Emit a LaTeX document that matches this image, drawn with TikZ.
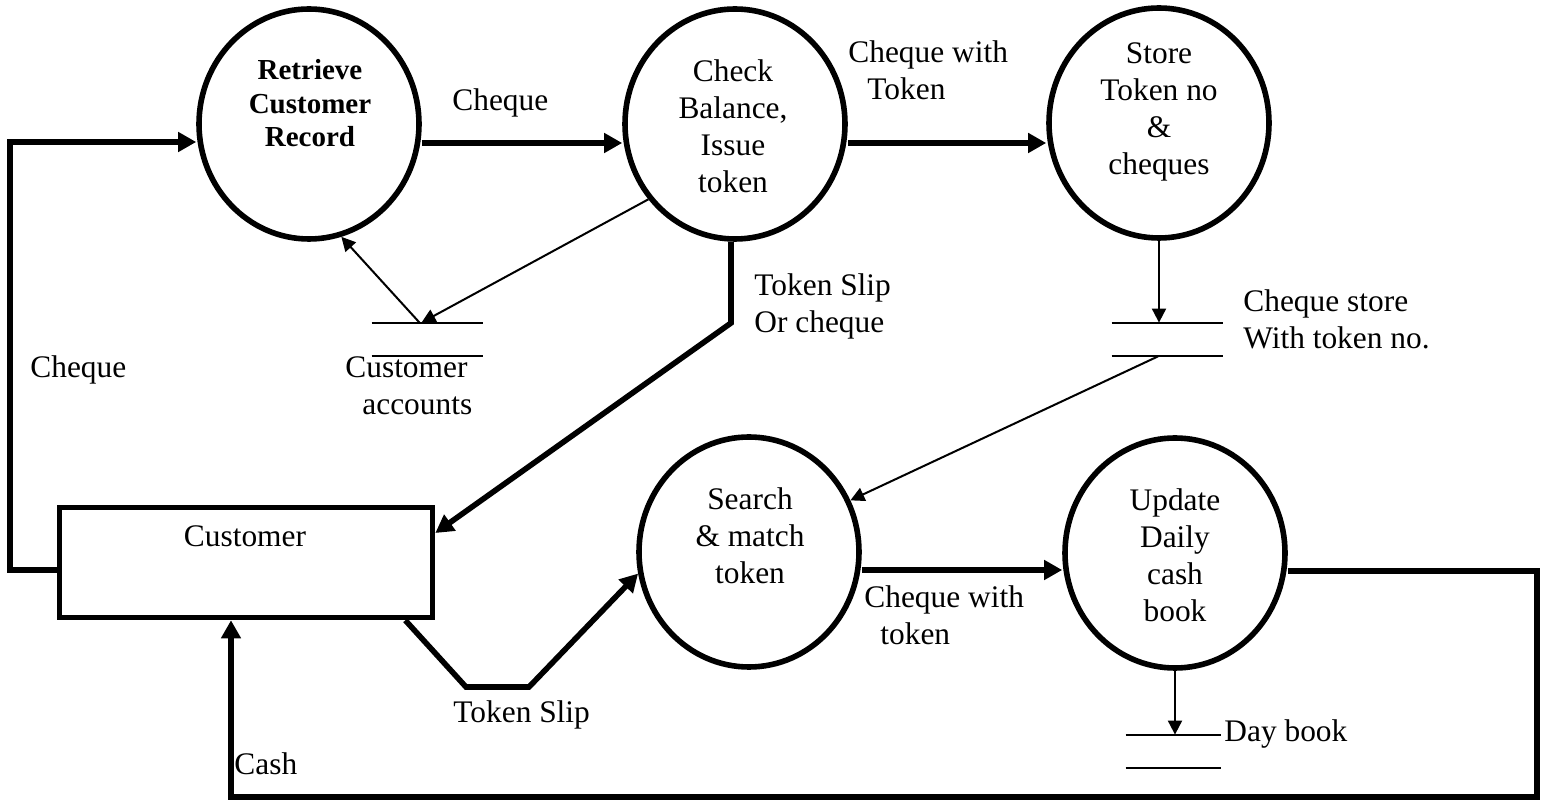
\documentclass[tikz,border=0pt]{standalone}
\usepackage{fontspec}
\setmainfont{Liberation Serif}
\usetikzlibrary{arrows.meta,shapes.geometric}

% stacked lines whose baseline is the baseline of the first line
\newcommand{\cstack}[1]{\begin{tabular}[t]{@{}c@{}}#1\end{tabular}}
\newcommand{\lstack}[1]{\begin{tabular}[t]{@{}l@{}}#1\end{tabular}}

\begin{document}
\begin{tikzpicture}[x=0.5pt,y=-0.5pt,
  proc/.style={ellipse,draw,line width=2.8pt,minimum width=110pt,minimum height=115pt,inner sep=0pt},
  entity/.style={rectangle,draw,line width=2.8pt,minimum width=186.5pt,minimum height=55pt,inner sep=0pt},
  datastore/.style={rectangle,inner sep=0pt,minimum height=16.5pt},
  txt/.style={inner sep=0pt,font=\fontsize{15.7}{18.4}\selectfont},
  btxt/.style={inner sep=0pt,font=\fontsize{14.5}{16.75}\selectfont\bfseries},
  bigflow/.style={line width=2.8pt,-{Triangle[length=9pt,width=9.5pt]}},
  smallflow/.style={line width=1pt,-{Triangle[length=7pt,width=7pt]}},
  thinline/.style={line width=1pt}]

\useasboundingbox (0,0) rectangle (1548,801);

% processes
\node[proc] (ret)  at (309,124) {};
\node[proc] (chk)  at (735,124) {};
\node[proc] (sto)  at (1159,123) {};
\node[proc] (srch) at (749,552) {};
\node[proc] (upd)  at (1175,553) {};

% external entity
\node[entity] (cust) at (246,562.5) {};

% data stores
\node[datastore,minimum width=55.5pt] (ca) at (427.5,339.5) {};
\node[datastore,minimum width=55.5pt] (cs) at (1167.5,339.5) {};
\node[datastore,minimum width=47.5pt] (db) at (1173.5,751.5) {};
\foreach \s in {ca,cs,db}{
  \draw[thinline] (\s.north west) -- (\s.north east) (\s.south west) -- (\s.south east);
}

% process texts
\node[btxt,anchor=base] (rett)  at (310,80)   {\cstack{Retrieve\\Customer\\Record}};
\node[txt,anchor=base]  (chkt)  at (733,82)   {\cstack{Check\\Balance,\\Issue\\token}};
\node[txt,anchor=base]  (stot)  at (1159,64)  {\cstack{Store\\Token no\\\&\\cheques}};
\node[txt,anchor=base]  (srcht) at (750,510)  {\cstack{Search\\\& match\\token}};
\node[txt,anchor=base]  (updt)  at (1175,511) {\cstack{Update\\Daily\\cash\\book}};
\node[txt,anchor=base]  (custt) at (245,547)  {Customer};

% helper points for the connectors
\coordinate (lp) at (10,570);
\coordinate (lt) at (10,142);
\coordinate (f1) at (0,143);
\coordinate (cb) at ([xshift=-2pt]chk.south);
\coordinate (k1) at (0,323);
\coordinate (k2) at (0,533);
\coordinate (t1) at (466,687);
\coordinate (t2) at (529,687);
\coordinate (f2) at (0,570);
\coordinate (r1) at (1537,571);
\coordinate (r2) at (1537,797);
\coordinate (r3) at (231,797);

% flows
\draw[bigflow] (lp -| cust.west) -- (lp) -- (lt) -- (lt -| ret.west);
\draw[bigflow] (f1 -| ret.east) -- (f1 -| chk.west);
\draw[bigflow] (f1 -| chk.east) -- (f1 -| sto.west);
\draw[bigflow] (cb) -- (k1 -| cb) -- (k2 -| cust.east);
\draw[smallflow] (chk.221) -- ([xshift=-3pt]ca.north);
\draw[smallflow] ([xshift=-4pt]ca.north) -- (ret.286);
\draw[smallflow] (sto.south) -- (sto.south |- cs.north);
\draw[smallflow] ([xshift=-4.75pt]cs.south) -- (srch.27);
\draw[bigflow] ([xshift=-15pt]cust.south east) -- (t1) -- (t2) -- (srch.191);
\draw[bigflow] (f2 -| srch.east) -- (f2 -| upd.west);
\draw[bigflow] (r1 -| upd.east) -- (r1) -- (r2) -- (r3) -- (r3 |- cust.south);
\draw[smallflow] (upd.south) -- (upd.south |- db.north);

% flow and store labels
\node[txt,anchor=base west] (l1)  at (452,111)  {Cheque};
\node[txt,anchor=base west] (l2)  at (848,63)   {\lstack{Cheque with\\\hspace{9.5pt}Token}};
\node[txt,anchor=base west] (l3)  at (754,296)  {\lstack{Token Slip\\Or cheque}};
\node[txt,anchor=base west] (l4)  at (345,378)  {\lstack{Customer\\\hspace{8.5pt}accounts}};
\node[txt,anchor=base west] (l5)  at (1243,312) {\lstack{Cheque store\\With token no.}};
\node[txt,anchor=base west] (l6)  at (30,378)   {Cheque};
\node[txt,anchor=base west] (l7)  at (864,608)  {\lstack{Cheque with\\\hspace{8pt}token}};
\node[txt,anchor=base west] (l8)  at (453,723)  {Token Slip};
\node[txt,anchor=base west] (l9)  at (1224,741) {Day book};
\node[txt,anchor=base west] (l10) at (234,775)  {Cash};

\end{tikzpicture}
\end{document}
